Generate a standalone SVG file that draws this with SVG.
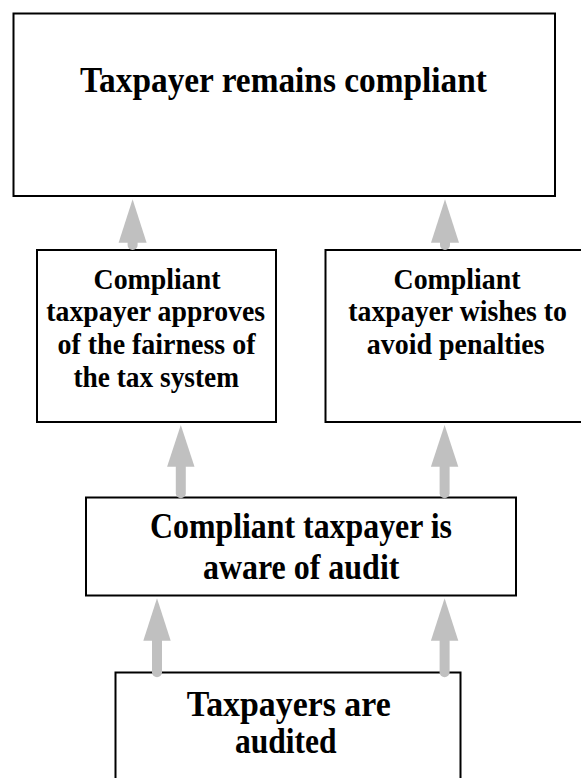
<svg xmlns="http://www.w3.org/2000/svg" width="581" height="778" viewBox="0 0 581 778">
<style>
.box{fill:#fff;stroke:#000;stroke-width:2}
.t{font-family:"Liberation Serif","Times New Roman",serif;font-weight:bold;text-anchor:middle;fill:#000}
.big{font-size:35px}
.huge{font-size:36px}
.sm{font-size:30px}
.shaft{stroke:#c0c0c0;stroke-width:10;stroke-linecap:round;fill:none}
.head{fill:#c0c0c0}
</style>
<rect width="581" height="778" fill="#fff"/>
<g id="n1">
<rect class="box" x="13.5" y="13.5" width="541.5" height="182.5"/>
<text class="t big" x="283.4" y="92" textLength="407" lengthAdjust="spacingAndGlyphs">Taxpayer remains compliant</text>
</g>
<g id="n2">
<rect class="box" x="37" y="250" width="239" height="172"/>
<text class="t sm" x="157" y="289.3" textLength="127" lengthAdjust="spacingAndGlyphs">Compliant</text>
<text class="t sm" x="155.7" y="320.7" textLength="218.7" lengthAdjust="spacingAndGlyphs">taxpayer approves</text>
<text class="t sm" x="156.5" y="354" textLength="198" lengthAdjust="spacingAndGlyphs">of the fairness of</text>
<text class="t sm" x="156.2" y="386.7" textLength="165.6" lengthAdjust="spacingAndGlyphs">the tax system</text>
</g>
<g id="n3">
<rect class="box" x="325.5" y="250" width="266" height="172"/>
<text class="t sm" x="457" y="289.3" textLength="127" lengthAdjust="spacingAndGlyphs">Compliant</text>
<text class="t sm" x="457.6" y="320.7" textLength="218.6" lengthAdjust="spacingAndGlyphs">taxpayer wishes to</text>
<text class="t sm" x="455.7" y="354" textLength="177.8" lengthAdjust="spacingAndGlyphs">avoid penalties</text>
</g>
<g id="n4">
<rect class="box" x="86" y="497.5" width="430" height="98"/>
<text class="t big" x="301" y="537.5" textLength="302" lengthAdjust="spacingAndGlyphs">Compliant taxpayer is</text>
<text class="t big" x="301.2" y="579" textLength="196.4" lengthAdjust="spacingAndGlyphs">aware of audit</text>
</g>
<g id="n5">
<rect class="box" x="115.5" y="672.5" width="345" height="120"/>
<text class="t huge" x="288.7" y="716" textLength="204" lengthAdjust="spacingAndGlyphs">Taxpayers are</text>
<text class="t huge" x="285.8" y="752.5" textLength="101.7" lengthAdjust="spacingAndGlyphs">audited</text>
</g>
<g id="connectors">
<line class="shaft" x1="132.6" y1="240" x2="132.6" y2="245"/>
<polygon class="head" points="132.6,199.3 146.6,242.7 118.6,242.7"/>
<line class="shaft" x1="445" y1="240" x2="445" y2="245"/>
<polygon class="head" points="445,199.3 459,242.7 431,242.7"/>
<line class="shaft" x1="180.8" y1="465" x2="180.8" y2="493.3"/>
<polygon class="head" points="180.8,425 194.5,466.7 167.1,466.7"/>
<line class="shaft" x1="444.6" y1="465" x2="444.6" y2="493.3"/>
<polygon class="head" points="444.6,425 458.3,466.7 430.9,466.7"/>
<line class="shaft" x1="157" y1="639" x2="157" y2="672.3"/>
<polygon class="head" points="157,598.3 170.7,640.7 143.3,640.7"/>
<line class="shaft" x1="444.6" y1="639" x2="444.6" y2="672.3"/>
<polygon class="head" points="444.6,598.3 458.3,640.7 430.9,640.7"/>
</g>
</svg>
